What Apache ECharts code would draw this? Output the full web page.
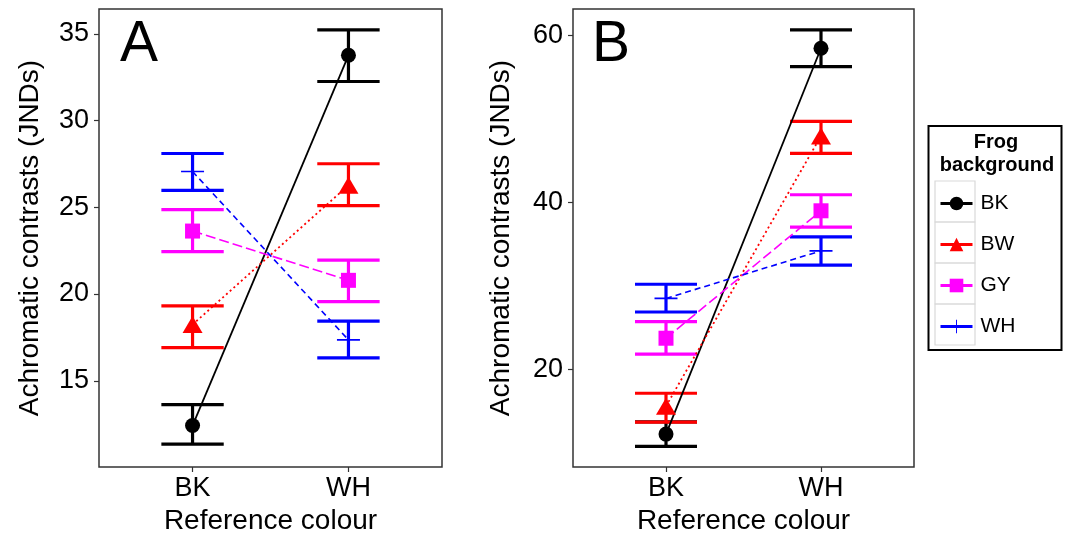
<!DOCTYPE html>
<html>
<head>
<meta charset="utf-8">
<script src="https://cdn.jsdelivr.net/npm/echarts@6/dist/echarts.min.js"></script>
<style>html,body{margin:0;padding:0;background:#fff}#chart{width:1070px;height:533px}</style>
</head>
<body>
<div id="chart"></div>
<script>
// ---- data ----
const refColours = ['BK', 'WH'];
const frogBackgrounds = ['BK', 'BW', 'GY', 'WH'];

// Panel A (means, lower and upper error-bar limits), per frog background, for [BK, WH]
const aMeanBK = [12.42, 33.76], aLowBK = [11.35, 32.25], aHighBK = [13.62, 35.23];
const aMeanBW = [18.24, 26.27], aLowBW = [16.91, 25.10], aHighBW = [19.32, 27.51];
const aMeanGY = [23.63, 20.79], aLowGY = [22.45, 19.56], aHighGY = [24.86, 21.96];
const aMeanWH = [27.06, 17.36], aLowWH = [25.98, 16.32], aHighWH = [28.10, 18.44];

// Panel B
const bMeanBK = [12.23, 58.47], bLowBK = [10.77, 56.26], bHighBK = [13.69, 60.67];
const bMeanBW = [15.57, 47.96], bLowBW = [13.66, 45.88], bHighBW = [17.13, 49.71];
const bMeanGY = [23.72, 38.99], bLowGY = [21.81, 37.04], bHighGY = [25.71, 40.91];
const bMeanWH = [28.49, 34.19], bLowWH = [26.86, 32.48], bHighWH = [30.19, 35.86];

const aTicks = [15, 20, 25, 30, 35];
const bTicks = [20, 40, 60];
const aRange = [10.03, 36.43];
const bRange = [8.29, 63.17];

// ---- styles ----
const FONT = '"Liberation Sans", Arial, Helvetica, sans-serif';
const colors = { BK: '#000000', BW: '#ff0000', GY: '#ff00ff', WH: '#0000ff' };
const plusPath = 'path://M0,9.3H20V10.7H0Z M9.3,0H10.7V20H9.3Z';
const symbols = { BK: 'circle', BW: 'triangle', GY: 'rect', WH: plusPath };
const symbolSizes = { BK: 15, BW: [20, 17], GY: 15, WH: 23 };
const lineTypes = { BK: 'solid', BW: [2, 3], GY: [10, 4], WH: [6, 4] };
const lineWidths = { BK: 1.8, BW: 1.8, GY: 1.6, WH: 1.6 };

const panelData = [
  { mean: { BK: aMeanBK, BW: aMeanBW, GY: aMeanGY, WH: aMeanWH },
    low: { BK: aLowBK, BW: aLowBW, GY: aLowGY, WH: aLowWH },
    high: { BK: aHighBK, BW: aHighBW, GY: aHighGY, WH: aHighWH } },
  { mean: { BK: bMeanBK, BW: bMeanBW, GY: bMeanGY, WH: bMeanWH },
    low: { BK: bLowBK, BW: bLowBW, GY: bLowGY, WH: bLowWH },
    high: { BK: bHighBK, BW: bHighBW, GY: bHighGY, WH: bHighWH } }
];

const grids = [
  { left: 99, right: 628, top: 9, bottom: 66 },
  { left: 573, right: 156, top: 9, bottom: 66 }
];

function xAxisFor(i) {
  return {
    gridIndex: i, type: 'value', min: 0.4, max: 2.6,
    name: 'Reference colour', nameLocation: 'middle', nameGap: 39,
    nameTextStyle: { fontFamily: FONT, fontSize: 28, color: '#000' },
    axisLine: { show: false },
    splitLine: { show: false },
    axisTick: { show: true, length: 5, customValues: [1, 2], lineStyle: { color: '#333', width: 1.2 } },
    axisLabel: { customValues: [1, 2], margin: 8, fontFamily: FONT, fontSize: 27, color: '#000',
      formatter: v => refColours[Math.round(v) - 1] || '' }
  };
}
function yAxisFor(i, range, ticks, gap) {
  return {
    gridIndex: i, type: 'value', min: range[0], max: range[1],
    name: 'Achromatic contrasts (JNDs)', nameLocation: 'middle', nameGap: gap,
    nameTextStyle: { fontFamily: FONT, fontSize: 28, color: '#000' },
    axisLine: { show: false },
    splitLine: { show: false },
    axisTick: { show: true, length: 5, customValues: ticks, lineStyle: { color: '#333', width: 1.2 } },
    axisLabel: { customValues: ticks, margin: 10, fontFamily: FONT, fontSize: 27, color: '#000' }
  };
}

const series = [];
panelData.forEach((pd, pi) => {
  // error bars
  frogBackgrounds.forEach(fb => {
    const col = colors[fb];
    series.push({
      type: 'custom', name: fb + ' error', xAxisIndex: pi, yAxisIndex: pi, z: 2,
      data: refColours.map((r, k) => [k + 1, pd.low[fb][k], pd.high[fb][k]]),
      renderItem: (params, api) => {
        const x = api.value(0);
        const pLo = api.coord([x, api.value(1)]);
        const pHi = api.coord([x, api.value(2)]);
        const half = api.size([0.2, 0])[0];
        const st = { stroke: col, lineWidth: 3.2, fill: null };
        return { type: 'group', children: [
          { type: 'line', shape: { x1: pLo[0], y1: pLo[1], x2: pHi[0], y2: pHi[1] }, style: st },
          { type: 'line', shape: { x1: pLo[0] - half, y1: pLo[1], x2: pLo[0] + half, y2: pLo[1] }, style: st },
          { type: 'line', shape: { x1: pHi[0] - half, y1: pHi[1], x2: pHi[0] + half, y2: pHi[1] }, style: st }
        ]};
      },
      silent: true
    });
  });
  // lines + points
  frogBackgrounds.forEach(fb => {
    series.push({
      type: 'line', name: fb, xAxisIndex: pi, yAxisIndex: pi, z: 3,
      data: refColours.map((r, k) => [k + 1, pd.mean[fb][k]]),
      symbol: symbols[fb], symbolSize: symbolSizes[fb], showSymbol: true,
      lineStyle: { color: colors[fb], width: lineWidths[fb], type: lineTypes[fb] },
      itemStyle: { color: colors[fb], borderWidth: 0 },
      emphasis: { disabled: true }
    });
  });
});

const option = {
  animation: false,
  backgroundColor: '#ffffff',
  grid: grids.map(g => Object.assign({ show: true, borderColor: '#333', borderWidth: 1.5, backgroundColor: '#fff', outerBoundsMode: 'none', containLabel: false }, g)),
  xAxis: [xAxisFor(0), xAxisFor(1)],
  yAxis: [yAxisFor(0, aRange, aTicks, 55), yAxisFor(1, bRange, bTicks, 58)],
  title: [
    { text: 'A', left: 120, top: 17, padding: 0, textStyle: { fontFamily: FONT, fontSize: 57, fontWeight: 'normal', color: '#000' } },
    { text: 'B', left: 592, top: 17, padding: 0, textStyle: { fontFamily: FONT, fontSize: 57, fontWeight: 'normal', color: '#000' } }
  ],
  legend: {
    data: frogBackgrounds, orient: 'vertical', left: 939, top: 193, padding: 0,
    itemWidth: 32, itemHeight: 17, itemGap: 20,
    textStyle: { fontFamily: FONT, fontSize: 21, color: '#000', padding: [0, 0, 0, 3], height: 21, lineHeight: 21 },
    lineStyle: { type: 'solid', width: 3 },
    selectedMode: false
  },
  graphic: [
    { type: 'rect', shape: { x: 928.5, y: 126, width: 133, height: 224 }, style: { stroke: '#000', lineWidth: 2, fill: '#fff' }, z: -1 },
    { type: 'text', x: 996, y: 142, style: { text: 'Frog', font: 'bold 20px ' + FONT, fill: '#000', align: 'center', verticalAlign: 'middle' } },
    { type: 'text', x: 997, y: 165, style: { text: 'background', font: 'bold 20px ' + FONT, fill: '#000', align: 'center', verticalAlign: 'middle' } }
  ].concat(frogBackgrounds.map((fb, i) => ({
    type: 'rect', shape: { x: 935, y: 181 + 41 * i, width: 40, height: 41 },
    style: { stroke: '#d9d9d9', lineWidth: 1.2, fill: null }, z: 0
  }))),
  series: series
};

const chart = echarts.init(document.getElementById('chart'), null, { renderer: 'canvas' });
chart.setOption(option);
</script>
</body>
</html>
